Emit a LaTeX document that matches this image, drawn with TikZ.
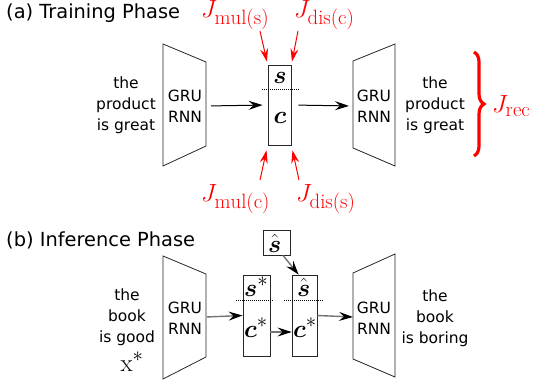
\documentclass[tikz,border=0pt]{standalone}
\usepackage{amsmath}
\usepackage{fontspec}
\setsansfont{DejaVu Sans}
\usetikzlibrary{arrows.meta,decorations.pathreplacing}
\begin{document}
\begin{tikzpicture}[x=1pt,y=-1pt,
  txt/.style={font=\fontsize{15.5}{21}\selectfont\sffamily, align=center, inner sep=0pt},
  head/.style={font=\fontsize{19.4}{23}\selectfont\sffamily, inner sep=0pt, anchor=base west},
  lab/.style={font=\Huge, text=red, inner sep=0pt, anchor=base west},
  mth/.style={font=\Huge, inner sep=0pt},
  trap/.style={draw=black!85, line width=0.8pt},
  vbox/.style={draw=black!85, line width=0.8pt, inner sep=0pt},
  sep/.style={line width=0.6pt, dash pattern=on 1pt off 1pt},
  arr/.style={line width=1pt, -{Stealth[length=14pt,width=9pt,inset=5pt]}},
  garr/.style={line width=1.4pt, draw=black!55, -{Stealth[length=14pt,width=9pt,inset=5pt,black]}},
  rarr/.style={line width=1pt, draw=red, -{Stealth[length=13pt,width=8pt,inset=4.5pt]}},
]
\useasboundingbox (0,0) rectangle (534,387);

% headings
\node[head] (ha) at (6,18.5) {(a) Training Phase};
\node[head] (hb) at (6,246) {(b) Inference Phase};

% ---------- training phase ----------
\draw[trap] (163,44) -- (206,62) -- (206,146) -- (163,166) -- cycle;
\draw[trap] (353,61) -- (395,44) -- (395,166) -- (353,148) -- cycle;
\coordinate (e1o) at (206,106);
\coordinate (d1i) at (353,106);

\node[txt] (in1) at (126,105) {the\\product\\is great};
\node[txt] (g1) at (185,106) {GRU\\RNN};
\node[txt] (g2) at (374,106) {GRU\\RNN};
\node[txt] (out1) at (435,105) {the\\product\\is great};

\node[vbox, minimum width=23pt, minimum height=80pt] (z) at (279.5,105) {};
\node[mth, anchor=base] (zs) at (280,83.5) {$\boldsymbol{s}$};
\node[mth, anchor=base] (zc) at (280,124) {$\boldsymbol{c}$};
\draw[sep] (262,89) -- (299,89);

\draw[arr, shorten <=5pt, shorten >=5pt] (e1o) -- (z.west);
\draw[arr, shorten <=7pt, shorten >=4pt] (z.east) -- (d1i);

% red labels
\node[lab] (Jms) at (201,17.5) {$J_{\raisebox{-2pt}{$\scriptstyle\mathrm{mul(s)}$}}$};
\node[lab] (Jdc) at (294,17.5) {$J_{\raisebox{-2pt}{$\scriptstyle\mathrm{dis(c)}$}}$};
\node[lab] (Jmc) at (201,201.5) {$J_{\mathrm{mul(c)}}$};
\node[lab] (Jds) at (296,201.5) {$J_{\mathrm{dis(s)}}$};
\node[lab] (Jrec) at (492,113) {$J_{\mathrm{rec}}$};

\coordinate (ta1) at (260,31);
\coordinate (ta2) at (298,31);
\coordinate (tb1) at (260,180);
\coordinate (tb2) at (299,180);
\draw[rarr, shorten >=3pt] (ta1) -- (z.north west);
\draw[rarr, shorten >=3pt] (ta2) -- (z.north east);
\draw[rarr, shorten >=5pt] (tb1) -- (z.south west);
\draw[rarr, shorten >=5pt] (tb2) -- (z.south east);

\coordinate (br1) at (474,52);
\coordinate (br2) at (474,156);
\draw[red, line width=3.2pt, decorate, decoration={brace, amplitude=10pt}] (br1) -- (br2);

% ---------- inference phase ----------
\draw[trap] (163,256) -- (206,274) -- (206,357) -- (163,379) -- cycle;
\draw[trap] (353,273) -- (395,254) -- (395,377) -- (353,359) -- cycle;
\coordinate (e2o) at (206,317);
\coordinate (d2i) at (353,317);

\node[txt] (in2) at (127,317.5) {the\\book\\is good};
\node[mth, anchor=base] (xs) at (132,371) {$\mathrm{x}^*$};
\node[txt] (g3) at (185,318) {GRU\\RNN};
\node[txt] (g4) at (374,318) {GRU\\RNN};
\node[txt] (out2) at (435,318) {the\\book\\is boring};

\node[vbox, minimum width=27pt, minimum height=81pt] (b1) at (256.5,315.5) {};
\node[vbox, minimum width=25pt, minimum height=81pt] (b2) at (304.5,315.5) {};
\node[vbox, minimum width=27pt, minimum height=25pt] (sb) at (276.5,242.5) {};
\node[mth, anchor=base west] (b1s) at (244,296) {$\boldsymbol{s}^*$};
\node[mth, anchor=base west] (b1c) at (244,337) {$\boldsymbol{c}^*$};
\node[mth, anchor=base west] (b2s) at (297,296) {$\hat{\boldsymbol{s}}$};
\node[mth, anchor=base west] (b2c) at (293,337) {$\boldsymbol{c}^*$};
\node[mth, anchor=base west] (sbs) at (268,252) {$\hat{\boldsymbol{s}}$};
\draw[sep] (236,300) -- (273,300);
\draw[sep] (284,300) -- (324,300);

\draw[garr, shorten <=1pt] (e2o) -- (b1.west);
\draw[garr] (b1.east |- 0,332) -- (b2.west |- 0,332);
\draw[garr] (b2.east) -- (d2i);
\draw[garr] ([xshift=6.5pt]sb.south) -- ([xshift=7pt]b2.north west);
\end{tikzpicture}
\end{document}
